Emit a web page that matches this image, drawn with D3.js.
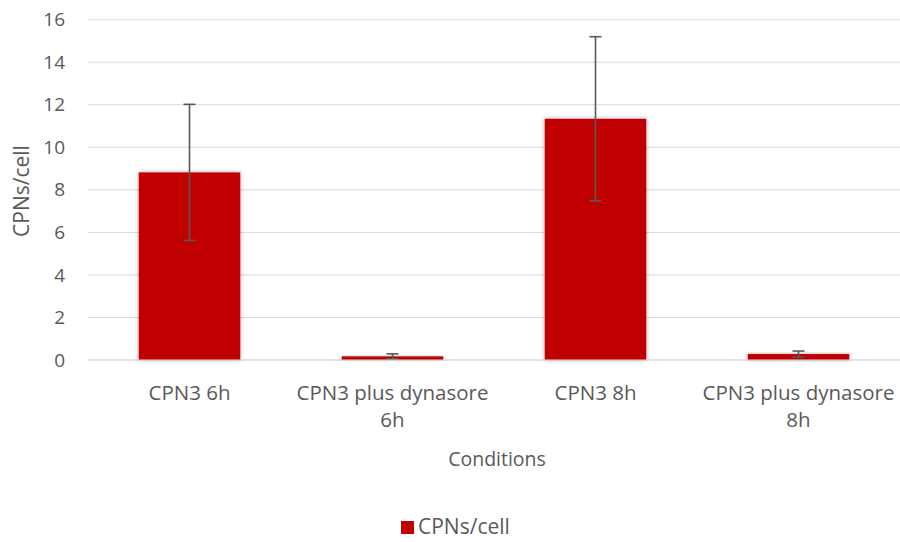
<!DOCTYPE html>
<html><head><meta charset="utf-8">
<script src="https://cdn.jsdelivr.net/npm/d3@7"></script>
<style>body{margin:0;background:#fff;} text{font-family:"Open Sans","Liberation Sans",sans-serif;fill:#595959;}</style>
</head><body>
<svg id="c" width="900" height="542"></svg>
<script>
const categories = ["CPN3 6h", "CPN3 plus dynasore 6h", "CPN3 8h", "CPN3 plus dynasore 8h"];
const categoryLines = [["CPN3 6h"], ["CPN3 plus dynasore", "6h"], ["CPN3 8h"], ["CPN3 plus dynasore", "8h"]];
const values = [8.82, 0.17, 11.34, 0.28];
const errors = [3.2, 0.12, 3.86, 0.14];
const yTicks = [0, 2, 4, 6, 8, 10, 12, 14, 16];
const seriesName = "CPNs/cell";

const svg = d3.select("#c");
const x = d3.scaleBand().domain(categories).range([88, 900]).paddingInner(0.5).paddingOuter(0.25);
const y = d3.scaleLinear().domain([0, 16]).range([360, 19.7]);

const defs = svg.append("defs");
const f = defs.append("filter").attr("id", "sh").attr("x", "-20%").attr("y", "-20%").attr("width", "140%").attr("height", "140%");
f.append("feDropShadow").attr("dx", 0).attr("dy", 0).attr("stdDeviation", 2).attr("flood-color", "#000").attr("flood-opacity", 0.35);

// gridlines
svg.append("g").selectAll("line").data(yTicks).join("line")
  .attr("x1", 88).attr("x2", 900).attr("y1", d => y(d)).attr("y2", d => y(d))
  .attr("stroke", "#d9d9d9").attr("stroke-width", 1);

// y axis labels
const ya = svg.append("g").attr("transform", "translate(65,0)")
  .call(d3.axisLeft(y).tickValues(yTicks).tickSize(0).tickPadding(0));
ya.select(".domain").remove();
ya.selectAll("text").attr("font-size", 19).style("font-family", '"Open Sans","Liberation Sans",sans-serif').attr("fill", "#595959");

// bars
svg.append("g").selectAll("rect").data(values).join("rect")
  .attr("x", (d, i) => x(categories[i])).attr("width", x.bandwidth())
  .attr("y", d => y(d)).attr("height", d => y(0) - y(d))
  .attr("fill", "#c00000").attr("filter", "url(#sh)");

// error bars
const eg = svg.append("g").attr("stroke", "#595959").attr("stroke-width", 1.6);
values.forEach((v, i) => {
  const cx = x(categories[i]) + x.bandwidth() / 2;
  const top = y(v + errors[i]), bot = y(Math.max(0, v - errors[i]));
  eg.append("line").attr("x1", cx).attr("x2", cx).attr("y1", top).attr("y2", bot);
  eg.append("line").attr("x1", cx - 6).attr("x2", cx + 6).attr("y1", top).attr("y2", top);
  eg.append("line").attr("x1", cx - 6).attr("x2", cx + 6).attr("y1", bot).attr("y2", bot);
});

// baseline
svg.append("line").attr("x1", 88).attr("x2", 900).attr("y1", y(0)).attr("y2", y(0)).attr("stroke", "#d9d9d9").attr("stroke-width", 1);

// category labels
const cg = svg.append("g");
categoryLines.forEach((lines, i) => {
  const cx = x(categories[i]) + x.bandwidth() / 2;
  const t = cg.append("text").attr("text-anchor", "middle").attr("font-size", 20.5);
  lines.forEach((ln, j) => t.append("tspan").attr("x", cx).attr("y", 400 + j * 27).text(ln));
});

// axis titles
svg.append("text").attr("x", 497).attr("y", 466).attr("text-anchor", "middle").attr("font-size", 19.5).text("Conditions");
svg.append("text").attr("transform", "translate(29,191) rotate(-90)").attr("text-anchor", "middle").attr("font-size", 21).text("CPNs/cell");

// legend
svg.append("rect").attr("x", 401).attr("y", 521).attr("width", 13).attr("height", 13).attr("fill", "#c00000");
svg.append("text").attr("x", 418).attr("y", 534).attr("font-size", 21).text(seriesName);
</script>
</body></html>
